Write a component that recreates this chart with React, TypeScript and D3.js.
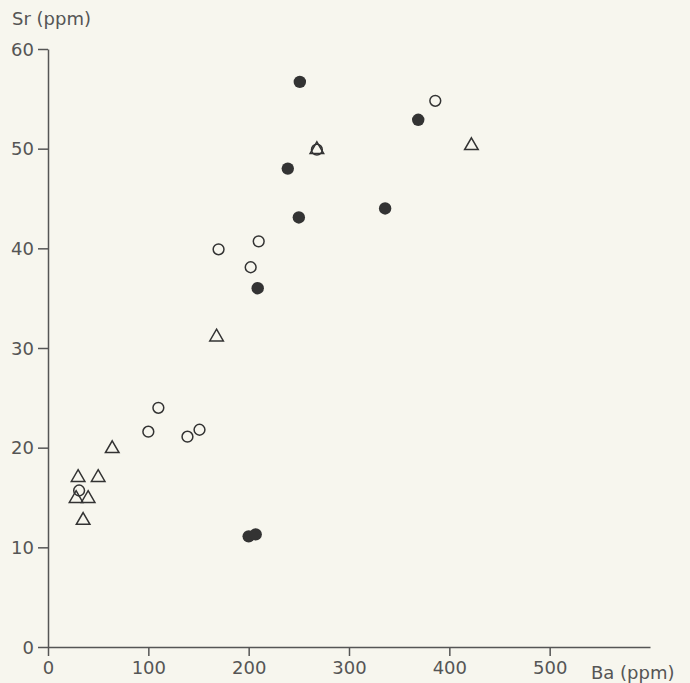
import { useEffect, useRef } from "react";
import * as d3 from "d3";

// Ba (ppm), Sr (ppm) pairs
const filledPts: [number, number][] = [
  [251, 56.7], [369, 52.9], [239, 48.0], [250, 43.1], [336, 44.0],
  [209, 36.0], [200, 11.1], [207, 11.3],
];
const openPts: [number, number][] = [
  [386, 54.8], [268, 49.9], [210, 40.7], [170, 39.9], [202, 38.1],
  [110, 24.0], [100, 21.6], [139, 21.1], [151, 21.8], [31, 15.7],
];
const triPts: [number, number][] = [
  [268, 49.9], [422, 50.3], [168, 31.1], [64, 19.9], [30, 17.0],
  [50, 17.0], [28, 14.9], [40, 14.9], [35, 12.7],
];
const xTicks = [0, 100, 200, 300, 400, 500];
const yTicks = [0, 10, 20, 30, 40, 50, 60];

const INK = "#555555";
const MARK = "#333333";
const FONT = "'DejaVu Sans', sans-serif";

export default function App() {
  const ref = useRef<SVGSVGElement>(null);

  useEffect(() => {
    const svg = d3.select(ref.current);
    svg.selectAll("*").remove();

    const x = d3.scaleLinear().domain([0, 600]).range([48, 650]);
    const y = d3.scaleLinear().domain([0, 60]).range([647, 49]);

    svg.append("rect")
      .attr("width", 690)
      .attr("height", 683)
      .attr("fill", "#f7f6ee");

    const xAxis = svg.append("g")
      .attr("transform", `translate(0,${y(0)})`)
      .call(d3.axisBottom(x).tickValues(xTicks).tickSize(9).tickSizeOuter(0).tickPadding(5).tickFormat(d3.format("d")));
    const yAxis = svg.append("g")
      .attr("transform", `translate(${x(0)},0)`)
      .call(d3.axisLeft(y).tickValues(yTicks).tickSize(10).tickSizeOuter(0).tickPadding(4).tickFormat(d3.format("d")));

    [xAxis, yAxis].forEach((g) => {
      g.selectAll("path, line").attr("stroke", INK).attr("stroke-width", 1.5);
      g.selectAll("text")
        .attr("fill", INK)
        .style("font-family", FONT)
        .style("font-size", "18px");
    });
    yAxis.selectAll("text").attr("dy", "0.35em");

    svg.append("text")
      .attr("x", 12)
      .attr("y", 25)
      .attr("fill", INK)
      .style("font-family", FONT)
      .style("font-size", "18px")
      .text("Sr (ppm)");
    svg.append("text")
      .attr("x", 591)
      .attr("y", 679)
      .attr("fill", INK)
      .style("font-family", FONT)
      .style("font-size", "18px")
      .text("Ba (ppm)");

    svg.append("g")
      .selectAll("circle")
      .data(filledPts)
      .enter()
      .append("circle")
        .attr("cx", (d) => x(d[0]))
        .attr("cy", (d) => y(d[1]))
        .attr("r", 6.2)
        .attr("fill", MARK);

    svg.append("g")
      .selectAll("circle")
      .data(openPts)
      .enter()
      .append("circle")
        .attr("cx", (d) => x(d[0]))
        .attr("cy", (d) => y(d[1]))
        .attr("r", 5.4)
        .attr("fill", "none")
        .attr("stroke", MARK)
        .attr("stroke-width", 1.5);

    const tri = d3.symbol().type(d3.symbolTriangle).size(80);
    svg.append("g")
      .selectAll("path")
      .data(triPts)
      .enter()
      .append("path")
        .attr("transform", (d) => `translate(${x(d[0])},${y(d[1])})`)
        .attr("d", tri() as string)
        .attr("fill", "none")
        .attr("stroke", MARK)
        .attr("stroke-width", 1.5);
  });

  return (
    <div style={{ position: "absolute", left: 0, top: 0 }}>
      <svg ref={ref} width={690} height={683} style={{ display: "block" }} />
    </div>
  );
}
